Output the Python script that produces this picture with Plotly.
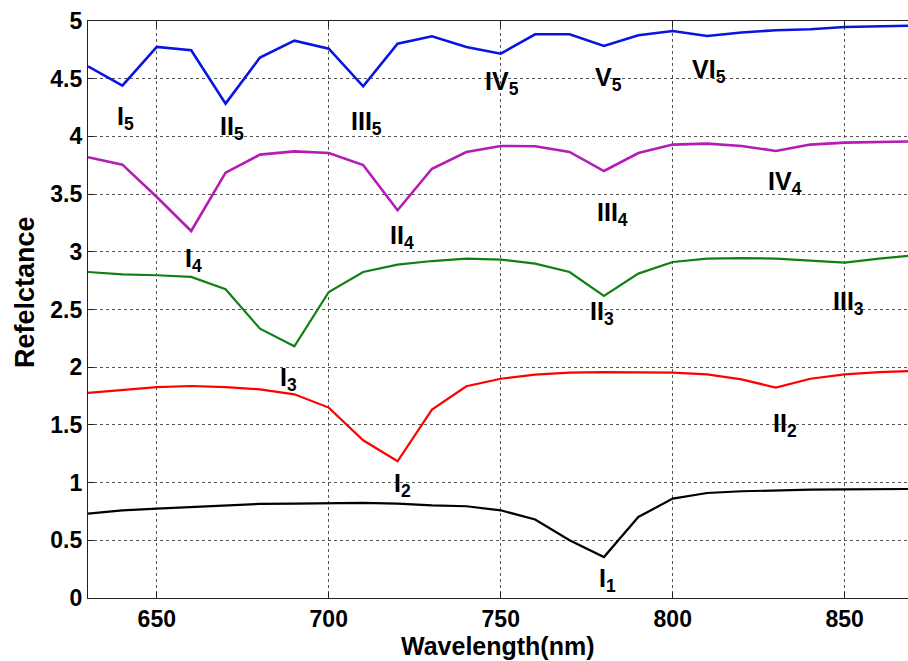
import plotly.graph_objects as go

wavelength = list(range(630, 871, 10))

curve1 = [0.731, 0.760, 0.775, 0.789, 0.803, 0.815, 0.818, 0.824, 0.824, 0.818, 0.803,
          0.795, 0.760, 0.680, 0.500, 0.355, 0.702, 0.861, 0.910, 0.925, 0.933, 0.939,
          0.942, 0.945, 0.945]
curve2 = [1.777, 1.800, 1.828, 1.837, 1.828, 1.808, 1.765, 1.650, 1.367, 1.185, 1.633,
          1.835, 1.900, 1.936, 1.953, 1.958, 1.958, 1.953, 1.938, 1.895, 1.823, 1.900,
          1.938, 1.958, 1.967]
curve3 = [2.825, 2.805, 2.797, 2.782, 2.675, 2.334, 2.181, 2.652, 2.825, 2.889, 2.920,
          2.940, 2.932, 2.898, 2.825, 2.617, 2.811, 2.912, 2.941, 2.946, 2.941, 2.926,
          2.906, 2.941, 2.970]
curve4 = [3.820, 3.755, 3.475, 3.180, 3.686, 3.842, 3.870, 3.856, 3.752, 3.360, 3.720,
          3.865, 3.917, 3.914, 3.865, 3.700, 3.856, 3.929, 3.937, 3.917, 3.874, 3.929,
          3.946, 3.952, 3.957]
curve5 = [4.607, 4.440, 4.775, 4.746, 4.284, 4.683, 4.830, 4.760, 4.434, 4.804, 4.867,
          4.775, 4.717, 4.885, 4.885, 4.784, 4.876, 4.913, 4.870, 4.900, 4.920, 4.928,
          4.948, 4.954, 4.960]

series = [
    ("curve1", curve1, "#000000", 2.2),
    ("curve2", curve2, "#ff0000", 2.2),
    ("curve3", curve3, "#108010", 2.2),
    ("curve4", curve4, "#b41cb4", 2.6),
    ("curve5", curve5, "#0a14e0", 2.6),
]

label_text = ["I<sub>5</sub>", "II<sub>5</sub>", "III<sub>5</sub>", "IV<sub>5</sub>",
              "V<sub>5</sub>", "VI<sub>5</sub>",
              "I<sub>4</sub>", "II<sub>4</sub>", "III<sub>4</sub>", "IV<sub>4</sub>",
              "I<sub>3</sub>", "II<sub>3</sub>", "III<sub>3</sub>",
              "I<sub>2</sub>", "II<sub>2</sub>",
              "I<sub>1</sub>"]
label_x = [640.8, 672.0, 711.1, 750.4, 781.2, 810.4,
           660.6, 721.3, 782.6, 832.7,
           688.3, 779.5, 851.0,
           721.3, 832.7,
           781.0]
label_y = [4.157, 4.07, 4.12, 4.46, 4.50, 4.57,
           2.93, 3.13, 3.33, 3.60,
           1.90, 2.467, 2.56,
           0.977, 1.50,
           0.154]

x_ticks = [650, 700, 750, 800, 850]
y_ticks = [0, 0.5, 1, 1.5, 2, 2.5, 3, 3.5, 4, 4.5, 5]
y_tick_text = ["0", "0.5", "1", "1.5", "2", "2.5", "3", "3.5", "4", "4.5", "5"]

x_title = "Wavelength(nm)"
y_title = "Refelctance"

FONT = "Liberation Sans, Arial, sans-serif"

fig = go.Figure()
for name, vals, color, w in series:
    fig.add_trace(go.Scatter(x=wavelength, y=vals, mode="lines", name=name,
                             line=dict(color=color, width=w), showlegend=False))

for t, lx, ly in zip(label_text, label_x, label_y):
    fig.add_annotation(x=lx, y=ly, xref="x", yref="y", text="<b>" + t + "</b>",
                       showarrow=False, font=dict(family=FONT, size=25, color="#000000"))

# axis titles placed as in the reference
fig.add_annotation(x=-0.077, y=0.53, xref="paper", yref="paper", textangle=-90,
                   text="<b>" + y_title + "</b>", showarrow=False,
                   xanchor="center", yanchor="middle",
                   font=dict(family=FONT, size=27, color="#000000"))
fig.add_annotation(x=0.5, y=-0.083, xref="paper", yref="paper",
                   text="<b>" + x_title + "</b>", showarrow=False,
                   xanchor="center", yanchor="middle", borderpad=0,
                   font=dict(family=FONT, size=25, color="#000000"))

fig.update_layout(
    width=908, height=661,
    margin=dict(l=88, r=0, t=21, b=63),
    paper_bgcolor="white", plot_bgcolor="white",
    font=dict(family=FONT, size=23, color="#000000"),
)
fig.update_xaxes(
    range=[630, 868.4], tickvals=x_ticks, ticks="inside", ticklen=6,
    tickcolor="#222", showline=True, linecolor="#222", linewidth=1.2, mirror="ticks",
    showgrid=True, gridcolor="#555", griddash="dot", gridwidth=1, zeroline=False,
    tickfont=dict(family=FONT, size=23, weight="bold"),
)
fig.update_yaxes(
    range=[0, 5], tickvals=y_ticks, ticktext=y_tick_text, ticks="inside", ticklen=6,
    tickcolor="#222", showline=True, linecolor="#222", linewidth=1.2, mirror=False,
    showgrid=True, gridcolor="#555", griddash="dot", gridwidth=1, zeroline=False,
    tickfont=dict(family=FONT, size=23, weight="bold"),
)

fig.write_html("out.html")
